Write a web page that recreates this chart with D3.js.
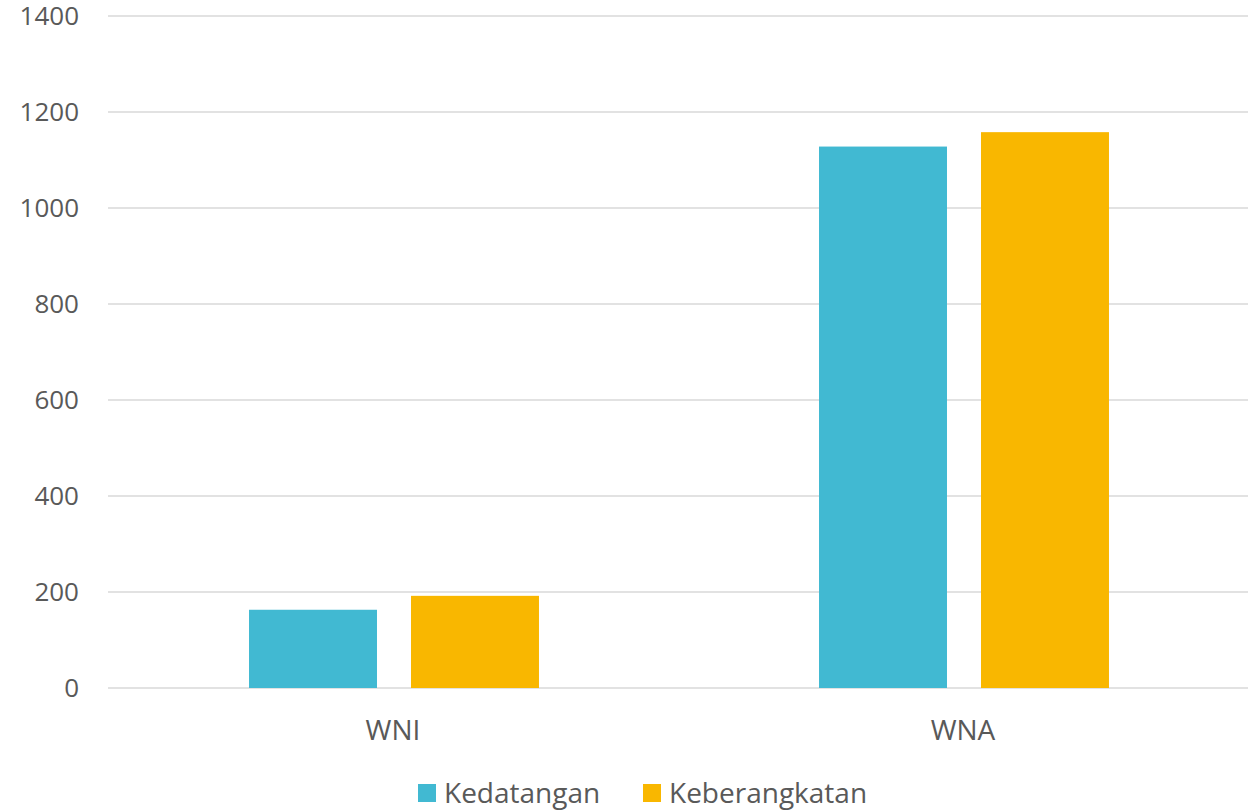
<!DOCTYPE html>
<html>
<head>
<meta charset="utf-8">
<script src="https://cdn.jsdelivr.net/npm/d3@7"></script>
<style>
  body { margin: 0; background: #fff; }
  svg text { font-family: "Open Sans", sans-serif; fill: #595959; }
</style>
</head>
<body>
<svg id="chart"></svg>
<script>
// data
const categories = ["WNI", "WNA"];
const series = ["Kedatangan", "Keberangkatan"];
const kedatangan = [163, 1128];
const keberangkatan = [192, 1158];
const yTicks = [0, 200, 400, 600, 800, 1000, 1200, 1400];
const colors = ["#41b9d2", "#f9b700"];

const width = 1252;
const height = 812;
const margin = { top: 16, right: 4, bottom: 124, left: 108 };

const svg = d3.select("#chart")
  .attr("width", width)
  .attr("height", height);

const x0 = d3.scaleBand()
  .domain(categories)
  .range([margin.left, width - margin.right]);

const bw = x0.bandwidth();
const x1 = d3.scaleBand()
  .domain(series)
  .range([bw * 0.2474, bw * 0.7561])
  .paddingInner(0.21);

const y = d3.scaleLinear()
  .domain([0, 1400])
  .range([height - margin.bottom, margin.top]);

// gridlines
svg.append("g")
  .selectAll("line")
  .data(yTicks)
  .enter()
  .append("line")
  .attr("x1", margin.left)
  .attr("x2", width - margin.right)
  .attr("y1", d => y(d))
  .attr("y2", d => y(d))
  .attr("stroke", "#d9d9d9")
  .attr("stroke-width", 1.5);

// y labels
svg.append("g")
  .selectAll("text")
  .data(yTicks)
  .enter()
  .append("text")
  .attr("x", 79)
  .attr("y", d => y(d))
  .attr("dy", "0.35em")
  .attr("text-anchor", "end")
  .style("font-size", "26px")
  .text(d => d);

// bars
const rows = categories.map((c, i) => ({ cat: c, vals: [kedatangan[i], keberangkatan[i]] }));

const groups = svg.append("g")
  .selectAll("g")
  .data(rows)
  .enter()
  .append("g")
  .attr("transform", d => `translate(${x0(d.cat)},0)`);

groups.selectAll("rect")
  .data(d => d.vals.map((v, j) => ({ s: series[j], v: v, j: j })))
  .enter()
  .append("rect")
  .attr("x", d => x1(d.s))
  .attr("width", x1.bandwidth())
  .attr("y", d => y(d.v))
  .attr("height", d => y(0) - y(d.v))
  .attr("fill", d => colors[d.j]);

// category labels
svg.append("g")
  .selectAll("text")
  .data(categories)
  .enter()
  .append("text")
  .attr("x", d => x0(d) + bw / 2)
  .attr("y", 730)
  .attr("dy", "0.35em")
  .attr("text-anchor", "middle")
  .style("font-size", "28px")
  .text(d => d);

// legend
const legendX = [418, 643];
const legend = svg.append("g")
  .selectAll("g")
  .data(series)
  .enter()
  .append("g")
  .attr("transform", (d, i) => `translate(${legendX[i]},784)`);

legend.append("rect")
  .attr("width", 18)
  .attr("height", 18)
  .attr("fill", (d, i) => colors[i]);

legend.append("text")
  .attr("x", 26)
  .attr("y", 9)
  .attr("dy", "0.35em")
  .style("font-size", "28px")
  .text(d => d);
</script>
</body>
</html>
